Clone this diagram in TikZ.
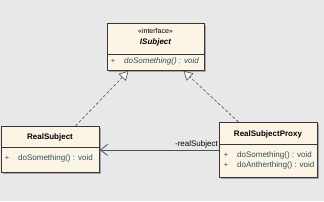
\documentclass[tikz,border=0pt]{standalone}
\usepackage{fontspec}
\setmainfont{Liberation Sans}
\usetikzlibrary{arrows.meta,shadows}
\definecolor{bg}{RGB}{232,232,232}
\definecolor{boxfill}{RGB}{252,245,230}
\definecolor{boxline}{RGB}{55,55,55}
\definecolor{mtext}{RGB}{45,80,90}
\definecolor{conn}{RGB}{80,80,80}
\begin{document}
\begin{tikzpicture}[x=1pt,y=-1pt,
  cls/.style={draw=boxline,fill=boxfill,line width=0.9pt,inner sep=0pt,anchor=north west,
    drop shadow={shadow xshift=1.6pt,shadow yshift=-1.6pt,fill=black!35,opacity=1}},
  divider/.style={draw=boxline,line width=0.7pt},
  ttl/.style={font=\fontsize{8}{9}\selectfont\bfseries,inner sep=0pt},
  stereo/.style={font=\fontsize{7}{8}\selectfont,inner sep=0pt},
  plus/.style={font=\fontsize{7.5}{8}\selectfont,text=mtext,inner sep=0pt},
  meth/.style={font=\fontsize{8}{9}\selectfont,text=mtext,inner sep=0pt,anchor=west},
  real/.style={densely dashed,draw=conn,line width=0.6pt,-{Triangle[open,length=9pt,width=10pt,fill=bg!40!white]}},
  assoc/.style={draw=conn,line width=0.8pt,-{Straight Barb[length=7pt,width=11pt]}},
  lbl/.style={font=\fontsize{8}{9}\selectfont,inner sep=1pt}]
\fill[bg] (0,0) rectangle (324,201);
\useasboundingbox (0,0) rectangle (324,201);
% ISubject
\node[cls,minimum width=97pt,minimum height=47pt] (isub) at (107,23) {};
\draw[divider] (107,54) -- (204,54);
\node[stereo] (isubst) at (155.5,31) {«interface»};
\node[ttl,font=\fontsize{8}{9}\selectfont\bfseries\itshape] (isubname) at (155.5,42) {ISubject};
\node[plus] (isubp) at (113,61.5) {+};
\node[meth,font=\fontsize{8}{9}\selectfont\itshape] (isubm) at (124,61.5) {doSomething() : void};
% RealSubject
\node[cls,minimum width=98pt,minimum height=46pt] (rs) at (1,126) {};
\draw[divider] (1,147) -- (99,147);
\node[ttl] (rsname) at (50,137.5) {RealSubject};
\node[plus] (rsp) at (7,158) {+};
\node[meth] (rsm) at (18,158) {doSomething() : void};
% RealSubjectProxy
\node[cls,minimum width=98pt,minimum height=55pt] (px) at (219,122) {};
\draw[divider] (219,144) -- (317,144);
\node[ttl] (pxname) at (268,134) {RealSubjectProxy};
\node[plus] (pxp1) at (226,155) {+};
\node[meth] (pxm1) at (237,155) {doSomething() : void};
\node[plus] (pxp2) at (226,165) {+};
\node[meth] (pxm2) at (237,165) {doAntherthing() : void};
% connectors
\draw[real] ([xshift=25pt]rs.north) -- ([xshift=-27.5pt]isub.south);
\draw[real] ([xshift=-30pt]px.north) -- ([xshift=27.5pt]isub.south);
\draw[assoc] (px.west) -- (rs.east |- px.west);
\node[lbl,anchor=south east] (role) at ([yshift=1pt]px.west) {-realSubject};
\end{tikzpicture}
\end{document}
